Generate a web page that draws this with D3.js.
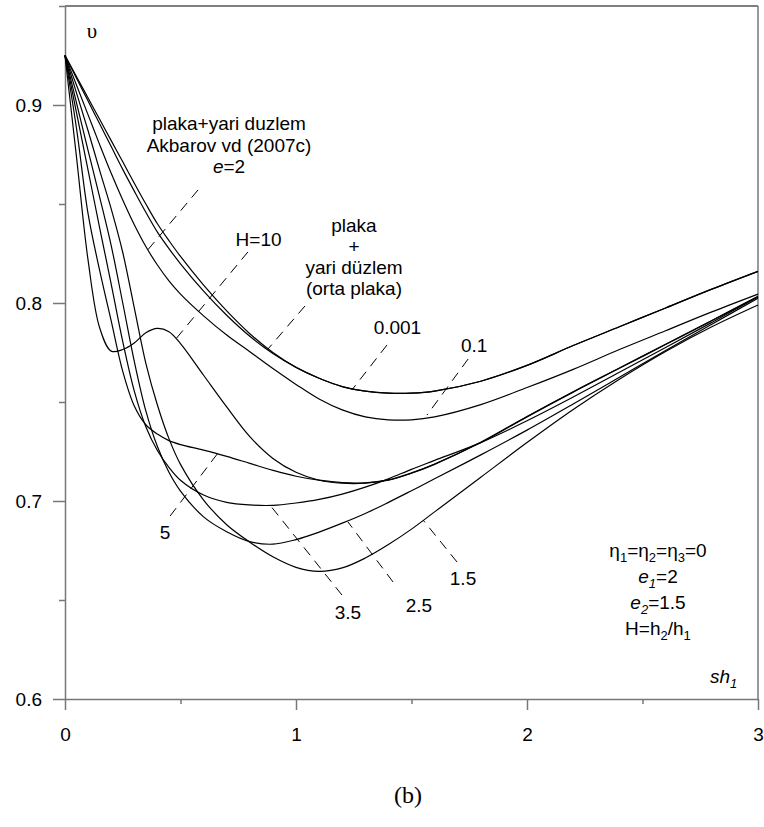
<!DOCTYPE html>
<html>
<head>
<meta charset="utf-8">
<script src="https://cdn.jsdelivr.net/npm/d3@7"></script>
<style>
body { margin: 0; background: #fff; }
svg text { font-family: "Liberation Sans", Arial, sans-serif; font-size: 19px; fill: #000; }
.axis path, .axis line { stroke: #777; stroke-width: 1.5; }
.axis text { font-size: 19px; fill: #000; }
</style>
</head>
<body>
<svg id="chart" width="764" height="827"></svg>
<script>
// sh1 grid shared by all curves
const sh = [0, 0.05, 0.1, 0.15, 0.2, 0.25, 0.3, 0.35, 0.4, 0.45, 0.5, 0.6, 0.7, 0.8, 0.9, 1.0,
            1.1, 1.2, 1.3, 1.4, 1.5, 1.6, 1.8, 2.0, 2.2, 2.4, 2.6, 2.8, 3.0];

// velocity values
const ortaPlaka = [.925, .9143, .9035, .8928, .882, .8713, .8605, .850, .840, .8315, .8235, .809, .796, .7845, .775, .7675,
                   .762, .7578, .7555, .7545, .7545, .7555, .7605, .7685, .7785, .788, .7975, .807, .816];
const H0001 = [.925, .9135, .902, .8905, .879, .8675, .8565, .8458, .8358, .8275, .8198, .806, .7938, .7832, .7745, .7675,
               .762, .7578, .7555, .7545, .7545, .7555, .7605, .7685, .7785, .788, .7975, .807, .816];
const H01 = [.925, .910, .895, .880, .8655, .852, .8395, .8285, .8192, .8112, .8045, .7935, .7838, .7754, .7669, .7589,
             .7515, .746, .7425, .741, .741, .7425, .7487, .7573, .7665, .7765, .786, .7955, .8045];
const H10 = [.925, .8735, .8215, .7875, .7757, .7765, .7798, .785, .7872, .7855, .7795, .7635, .7475, .7325, .7215, .7145,
             .7105, .709, .709, .7105, .714, .7185, .7295, .7425, .755, .767, .779, .791, .8032];
const H5 = [.925, .888, .845, .8165, .791, .7655, .748, .7385, .7338, .7305, .7285, .7257, .7225, .719, .7155, .7125,
            .7105, .7093, .7092, .7107, .7142, .7187, .7297, .7427, .7552, .7672, .7792, .7912, .8034];
const H35 = [.925, .896, .867, .838, .8095, .7805, .7555, .7375, .7255, .717, .7105, .703, .6993, .698, .6978, .699,
             .7008, .7035, .707, .7112, .716, .7205, .7295, .7405, .7525, .765, .7775, .7902, .803];
const H25 = [.925, .901, .877, .8535, .829, .800, .7705, .7455, .7275, .7145, .705, .692, .6845, .6795, .6782, .6805,
             .6843, .6888, .6937, .6993, .7052, .7112, .7233, .7358, .749, .7625, .776, .7893, .8024];
const H15 = [.925, .906, .887, .867, .8475, .8255, .7975, .7695, .7485, .7315, .7185, .7005, .688, .6792, .6718, .6665,
             .6645, .6662, .6712, .678, .6858, .6945, .712, .7295, .7462, .7615, .7755, .788, .799];

const seriesList = [ortaPlaka, H0001, H01, H10, H5, H35, H25, H15];

// axis ticks
const xTicks = [0, 1, 2, 3];
const xMinor = [0.5, 1.5, 2.5];
const yTicks = [0.6, 0.7, 0.8, 0.9];
const yMinor = [0.65, 0.75, 0.85, 0.95];

// dashed leaders [x1, y1, x2, y2] in data units
const leaders = [
    [0.576, 0.8571, 0.351, 0.8258],
    [0.792, 0.8258, 0.476, 0.7813],
    [1.039, 0.7985, 0.879, 0.7768],
    [1.394, 0.7788, 1.242, 0.7561],
    [1.745, 0.7717, 1.567, 0.7434],
    [0.455, 0.6924, 0.662, 0.7242],
    [1.199, 0.6525, 0.887, 0.6980],
    [1.420, 0.6591, 1.225, 0.6894],
    [1.697, 0.6692, 1.550, 0.6904]
];

// simple labels: text, x, y (baseline)
const curveLabels = [
    ["H=10", 0.838, 0.8288],
    ["0.001", 1.439, 0.7843],
    ["0.1", 1.771, 0.7753],
    ["5", 0.433, 0.6808],
    ["3.5", 1.225, 0.6404],
    ["2.5", 1.532, 0.6439],
    ["1.5", 1.723, 0.6576]
];
const akbarovLines = ["plaka+yari duzlem", "Akbarov vd (2007c)"];
const ortaLines = ["plaka", "+", "yari düzlem", "(orta plaka)"];

const svg = d3.select("#chart");
const x = d3.scaleLinear().domain([0, 3]).range([65, 758]);
const y = d3.scaleLinear().domain([0.6, 0.95]).range([699, 6]);

// frame
svg.append("line")
    .attr("x1", x(0)).attr("x2", x(3))
    .attr("y1", y(0.95)).attr("y2", y(0.95))
    .attr("stroke", "#000").attr("stroke-width", 1.2);
svg.append("line")
    .attr("x1", x(3)).attr("x2", x(3))
    .attr("y1", y(0.95)).attr("y2", y(0.6))
    .attr("stroke", "#777").attr("stroke-width", 1.5);

// axes
svg.append("g").attr("class", "axis")
    .attr("transform", `translate(${x(0)},0)`)
    .call(d3.axisLeft(y).tickValues(yTicks).tickSize(12).tickSizeOuter(0).tickPadding(11).tickFormat(d3.format(".1f")));
svg.append("g").attr("class", "axis")
    .attr("transform", `translate(${x(0)},0)`)
    .call(d3.axisLeft(y).tickValues(yMinor).tickSize(6).tickFormat(""))
    .select(".domain").remove();
svg.append("g").attr("class", "axis")
    .attr("transform", `translate(0,${y(0.6)})`)
    .call(d3.axisBottom(x).tickValues(xTicks).tickSize(11).tickSizeOuter(0).tickPadding(18).tickFormat(d3.format("d")));
svg.append("g").attr("class", "axis")
    .attr("transform", `translate(0,${y(0.6)})`)
    .call(d3.axisBottom(x).tickValues(xMinor).tickSize(5).tickFormat(""))
    .select(".domain").remove();

// curves
let line = d3.line()
    .x((d, i) => x(sh[i]))
    .y(d => y(d))
    .curve(d3.curveCatmullRom.alpha(0.5));

svg.append("g")
    .selectAll("path")
    .data(seriesList)
    .enter()
    .append("path")
    .attr("d", line)
    .attr("fill", "none")
    .attr("stroke", "#000")
    .attr("stroke-width", 1.2);

// leaders
svg.append("g")
    .selectAll("line")
    .data(leaders)
    .enter()
    .append("line")
    .attr("x1", d => x(d[0])).attr("y1", d => y(d[1]))
    .attr("x2", d => x(d[2])).attr("y2", d => y(d[3]))
    .attr("stroke", "#000").attr("stroke-width", 1)
    .attr("stroke-dasharray", "10,7");

// labels
svg.append("g")
    .selectAll("text")
    .data(curveLabels)
    .enter()
    .append("text")
    .attr("x", d => x(d[1])).attr("y", d => y(d[2]))
    .attr("text-anchor", "middle")
    .text(d => d[0]);

let akb = svg.append("text").attr("text-anchor", "middle")
    .attr("x", x(0.71)).attr("y", y(0.8874));
akbarovLines.forEach((t, i) => {
    akb.append("tspan").attr("x", x(0.71)).attr("dy", i === 0 ? 0 : 21.7).text(t);
});
akb.append("tspan").attr("x", x(0.71)).attr("dy", 21.7).attr("font-style", "italic").text("e");
akb.append("tspan").text("=2");

let orta = svg.append("text").attr("text-anchor", "middle")
    .attr("x", x(1.251)).attr("y", y(0.8359));
ortaLines.forEach((t, i) => {
    orta.append("tspan").attr("x", x(1.251)).attr("dy", i === 0 ? 0 : 21).text(t);
});

// text with subscripts: parts are [text, isSub, italic]
function richText(px, py, parts, anchor) {
    let t = svg.append("text").attr("x", px).attr("y", py).attr("text-anchor", anchor || "middle");
    let shifted = false;
    parts.forEach(p => {
        let s = t.append("tspan").text(p[0]);
        if (p[1]) {
            s.attr("font-size", "13px").attr("dy", shifted ? 0 : 5);
            shifted = true;
        } else {
            s.attr("dy", shifted ? -5 : 0);
            shifted = false;
        }
        if (p[2]) s.attr("font-style", "italic");
    });
    return t;
}

let px0 = x(2.567), py0 = y(0.6717);
richText(px0, py0, [["\u03b7"], ["1", 1], ["=\u03b7"], ["2", 1], ["=\u03b7"], ["3", 1], ["=0"]]);
richText(px0, py0 + 26, [["e", 0, 1], ["1", 1, 1], ["=2"]]);
richText(px0, py0 + 52, [["e", 0, 1], ["2", 1, 1], ["=1.5"]]);
richText(px0, py0 + 78, [["H=h"], ["2", 1], ["/h"], ["1", 1]]);

// axis titles
richText(x(2.792), y(0.6081), [["sh", 0, 1], ["1", 1, 1]], "start");

svg.append("text")
    .attr("x", x(0.117)).attr("y", y(0.9338))
    .attr("text-anchor", "middle")
    .style("font-family", "'Liberation Serif', 'Times New Roman', serif")
    .style("font-size", "21px")
    .text("\u03c5");

svg.append("text")
    .attr("x", 408).attr("y", 803)
    .attr("text-anchor", "middle")
    .style("font-family", "'Liberation Serif', 'Times New Roman', serif")
    .style("font-size", "24px")
    .text("(b)");
</script>
</body>
</html>
